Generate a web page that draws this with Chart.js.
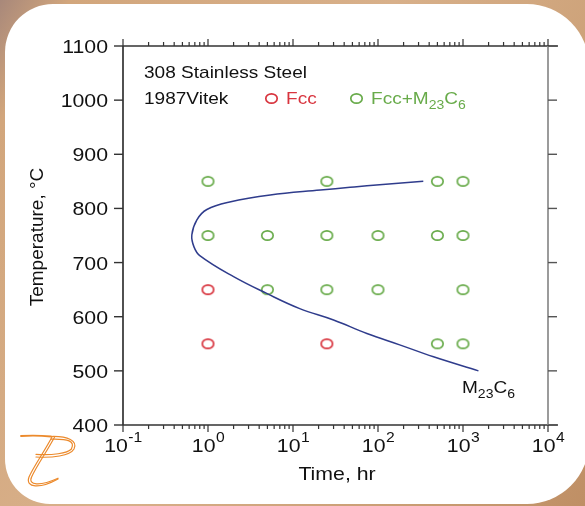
<!DOCTYPE html>
<html>
<head>
<meta charset="utf-8">
<script src="https://cdn.jsdelivr.net/npm/chart.js@4.4.1/dist/chart.umd.min.js"></script>
<style>
    html, body { margin: 0; padding: 0; }
    body {
        width: 585px; height: 506px; overflow: hidden; position: relative;
        background: linear-gradient(120deg, #a8887a 0%, #d2a67c 8%, #d8b08a 45%, #c99d73 80%, #bf8f65 100%);
    }
    #card {
        position: absolute; left: 5px; top: 4px; width: 584px; height: 500px;
        background: #fff;
        border-radius: 48px 62px 62px 45px;
    }
    #chart { position: absolute; left: 0; top: 0; }
</style>
</head>
<body>
<div id="card"></div>
<canvas id="chart" width="585" height="506"></canvas>
<script>
// Dados (tempo em h, temperatura em °C)
const greenTime = [1, 25, 500, 1000, 1, 5, 25, 100, 500, 1000, 5, 25, 100, 1000, 500, 1000];
const greenTemp = [850, 850, 850, 850, 750, 750, 750, 750, 750, 750, 650, 650, 650, 650, 550, 550];
const redTime = [1, 1, 25];
const redTemp = [650, 550, 550];

// Curva C do M23C6
const curveTime = [341, 88, 47, 21, 5.4, 1.8, 0.97, 0.74, 0.645, 0.684, 0.8, 2.0, 4.9, 12, 30, 74, 180, 450, 1520];
const curveTemp = [850, 843, 839, 834, 825, 812, 798, 779, 751, 729, 713, 674, 643, 615, 594, 569, 548, 526, 500];

// Eixos
const yTicks = [400, 500, 600, 700, 800, 900, 1000, 1100];
const xDecades = [-1, 0, 1, 2, 3, 4];

const GREEN = '#68ab4a';
const RED = '#d8343e';
const NAVY = '#2f3c8c';
const SX = 1.12; // a figura original está um pouco esticada na horizontal
const FONT = '"Liberation Sans", Arial, sans-serif';

function toXY(xs, ys) {
    return xs.map((v, i) => ({ x: v, y: ys[i] }));
}

function makeRing(color) {
    const c = document.createElement('canvas');
    c.width = 15; c.height = 13;
    const g = c.getContext('2d');
    g.strokeStyle = color;
    g.lineWidth = 1.7;
    g.beginPath();
    g.ellipse(7.5, 6.5, 5.7, 4.7, 0, 0, Math.PI * 2);
    g.stroke();
    return c;
}

function txt(ctx, s, x, y, size, color, align) {
    ctx.save();
    ctx.font = size + 'px ' + FONT;
    ctx.fillStyle = color;
    ctx.textBaseline = 'alphabetic';
    ctx.translate(x, y);
    ctx.scale(SX, 1);
    let w = ctx.measureText(s).width;
    let dx = 0;
    if (align === 'right') dx = -w;
    if (align === 'center') dx = -w / 2;
    ctx.fillText(s, dx, 0);
    ctx.restore();
    return w * SX;
}

function textWidth(ctx, s, size) {
    ctx.save();
    ctx.font = size + 'px ' + FONT;
    const w = ctx.measureText(s).width * SX;
    ctx.restore();
    return w;
}

// Texto com subscritos: partes [texto, sub?]
function richText(ctx, parts, x, y, size, subSize, color) {
    let cx = x;
    parts.forEach(p => {
        if (p[1]) cx += txt(ctx, p[0], cx, y + 5, subSize, color);
        else cx += txt(ctx, p[0], cx, y, size, color);
    });
}

function drawLogo(ctx) {
    ctx.save();
    ctx.strokeStyle = '#ec8a2c';
    ctx.lineCap = 'round';
    // barra superior
    ctx.lineWidth = 1.8;
    ctx.beginPath();
    ctx.moveTo(21, 436);
    ctx.quadraticCurveTo(36, 435, 51, 436.5);
    ctx.stroke();
    ctx.lineWidth = 1.2;
    for (let k = 0; k < 2; k++) {
        const o = k * 2.6;
        // bojo do P
        ctx.beginPath();
        ctx.moveTo(51, 436.5 + o);
        ctx.bezierCurveTo(68, 436 + o, 78 - o, 441, 74 - o, 449);
        ctx.bezierCurveTo(70 - o, 456 - o, 52, 458 - o, 36, 457 - o);
        ctx.stroke();
        // haste + curva inferior
        ctx.beginPath();
        ctx.moveTo(52 + o, 437);
        ctx.bezierCurveTo(44 + o, 452, 34 + o, 466, 29 + o, 477);
        ctx.bezierCurveTo(25 + o, 488 - o, 40, 489 - o, 58, 479 - o * 0.3);
        ctx.stroke();
    }
    ctx.restore();
}

const framePlugin = {
    id: 'frame',
    afterDatasetsDraw(chart) {
        const { ctx, chartArea: a, scales: { x, y } } = chart;
        ctx.save();

        // Eixos
        ctx.lineWidth = 1.7;
        ctx.strokeStyle = '#333';
        ctx.beginPath();
        ctx.moveTo(a.left, a.top); ctx.lineTo(a.left, a.bottom);
        ctx.moveTo(a.left, a.top); ctx.lineTo(a.right + 10, a.top);
        ctx.moveTo(a.left, a.bottom); ctx.lineTo(a.right + 10, a.bottom);
        ctx.stroke();
        ctx.strokeStyle = '#8a8a8a';
        ctx.beginPath();
        ctx.moveTo(a.right, a.top); ctx.lineTo(a.right, a.bottom);
        ctx.stroke();

        // Ticks do eixo Y (esquerda e direita, para fora)
        ctx.lineWidth = 1.4;
        yTicks.forEach(v => {
            const py = y.getPixelForValue(v);
            ctx.strokeStyle = '#333';
            ctx.beginPath(); ctx.moveTo(a.left - 9, py); ctx.lineTo(a.left, py); ctx.stroke();
            ctx.strokeStyle = '#555';
            ctx.beginPath(); ctx.moveTo(a.right, py); ctx.lineTo(a.right + 9, py); ctx.stroke();
            txt(ctx, String(v), a.left - 15, py + 7, 19, '#111', 'right');
        });

        // Ticks do eixo X (log, maiores e menores)
        ctx.strokeStyle = '#333';
        ctx.lineWidth = 1.2;
        xDecades.forEach(e => {
            const base = Math.pow(10, e);
            const px = x.getPixelForValue(base);
            ctx.beginPath();
            ctx.moveTo(px, a.bottom); ctx.lineTo(px, a.bottom + 7);
            ctx.moveTo(px, a.top); ctx.lineTo(px, a.top - 7);
            ctx.stroke();
            if (e < 4) {
                for (let m = 2; m <= 9; m++) {
                    const pm = x.getPixelForValue(m * base);
                    ctx.beginPath();
                    ctx.moveTo(pm, a.bottom); ctx.lineTo(pm, a.bottom + 4);
                    ctx.moveTo(pm, a.top); ctx.lineTo(pm, a.top - 4);
                    ctx.stroke();
                }
            }
            // rótulo 10^e
            const exp = e < 0 ? '-' + Math.abs(e) : String(e);
            const w10 = textWidth(ctx, '10', 19);
            const wExp = textWidth(ctx, exp, 14);
            const x0 = px - (w10 + wExp) / 2;
            txt(ctx, '10', x0, 452, 19, '#111');
            txt(ctx, exp, x0 + w10 + 0.5, 442, 14, '#111');
        });

        // Títulos dos eixos
        txt(ctx, 'Time, hr', 337, 480, 19, '#111', 'center');
        ctx.save();
        ctx.translate(43, 237);
        ctx.rotate(-Math.PI / 2);
        ctx.font = '19px ' + FONT;
        ctx.fillStyle = '#111';
        ctx.textAlign = 'center';
        ctx.fillText('Temperature, \u00B0C', 0, 0);
        ctx.restore();

        // Anotações
        txt(ctx, '308 Stainless Steel', 144, 78, 17, '#111');
        txt(ctx, '1987Vitek', 144, 104, 17, '#111');
        ctx.drawImage(makeRing(RED), 264, 92);
        txt(ctx, 'Fcc', 286, 104, 17, RED);
        ctx.drawImage(makeRing(GREEN), 349, 92);
        richText(ctx, [['Fcc+M'], ['23', true], ['C'], ['6', true]], 371, 104, 17, 12.5, GREEN);
        richText(ctx, [['M'], ['23', true], ['C'], ['6', true]], 462, 393, 17, 12.5, '#111');

        drawLogo(ctx);
        ctx.restore();
    }
};

document.addEventListener('DOMContentLoaded', () => {
    const ctx = document.getElementById('chart').getContext('2d');
    new Chart(ctx, {
        type: 'scatter',
        data: {
            datasets: [{
                label: 'M23C6',
                data: toXY(curveTime, curveTemp),
                showLine: true,
                borderColor: NAVY,
                borderWidth: 1.5,
                tension: 0.4,
                pointRadius: 0
            }, {
                label: 'Fcc+M23C6',
                data: toXY(greenTime, greenTemp),
                pointStyle: makeRing(GREEN),
                pointRadius: 6
            }, {
                label: 'Fcc',
                data: toXY(redTime, redTemp),
                pointStyle: makeRing(RED),
                pointRadius: 6
            }]
        },
        options: {
            responsive: false,
            animation: false,
            devicePixelRatio: 1,
            layout: { padding: { left: 123, top: 46, right: 37, bottom: 81 } },
            scales: {
                x: { type: 'logarithmic', min: 0.1, max: 10000, display: false },
                y: { type: 'linear', min: 400, max: 1100, display: false }
            },
            plugins: {
                legend: { display: false },
                tooltip: { enabled: false }
            }
        },
        plugins: [framePlugin]
    });
});
</script>
</body>
</html>
